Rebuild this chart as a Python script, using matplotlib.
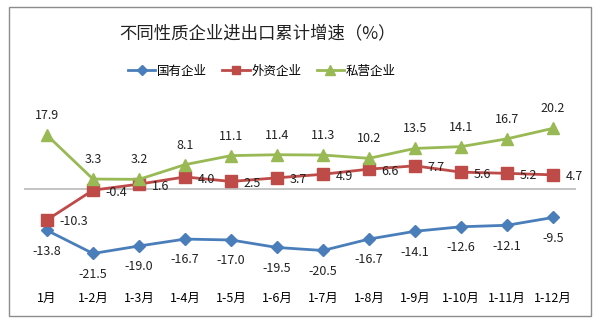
import matplotlib.pyplot as plt
from matplotlib.patches import Rectangle

plt.rcParams['font.family'] = ['Noto Sans CJK SC', 'DejaVu Sans']

months = ['1月', '1-2月', '1-3月', '1-4月', '1-5月', '1-6月',
          '1-7月', '1-8月', '1-9月', '1-10月', '1-11月', '1-12月']
state = [-13.8, -21.5, -19.0, -16.7, -17.0, -19.5, -20.5, -16.7, -14.1, -12.6, -12.1, -9.5]
foreign = [-10.3, -0.4, 1.6, 4.0, 2.5, 3.7, 4.9, 6.6, 7.7, 5.6, 5.2, 4.7]
private = [17.9, 3.3, 3.2, 8.1, 11.1, 11.4, 11.3, 10.2, 13.5, 14.1, 16.7, 20.2]

blue = '#4A7EBB'
red = '#BE4B48'
green = '#98B954'

W, H = 600, 325
fig = plt.figure(figsize=(6, 3.25), dpi=100)
fig.patches.append(Rectangle((9 / W, 1 - 316 / H), 582 / W, 309 / H,
                             transform=fig.transFigure, fill=False,
                             edgecolor='#8C8C8C', linewidth=1))

ax = fig.add_axes([24 / W, 55 / H, 552 / W, 175 / H])
x = list(range(len(months)))

ax.axhline(0, color='#BFBFBF', linewidth=1.3, zorder=1)
l1, = ax.plot(x, state, color=blue, lw=2, marker='D', ms=6.5, label='国有企业', zorder=3)
l2, = ax.plot(x, foreign, color=red, lw=2, marker='s', ms=8, label='外资企业', zorder=3)
l3, = ax.plot(x, private, color=green, lw=2, marker='^', ms=8.5, label='私营企业', zorder=3)

for i in x:
    ax.annotate('%.1f' % state[i], (i, state[i]), xytext=(0, -15), textcoords='offset points',
                ha='center', va='center', fontsize=9, color='#222222')
    ax.annotate('%.1f' % foreign[i], (i, foreign[i]), xytext=(9, -1.5), textcoords='offset points',
                ha='left', va='center', fontsize=9, color='#222222')
    ax.annotate('%.1f' % private[i], (i, private[i]), xytext=(0, 14), textcoords='offset points',
                ha='center', va='center', fontsize=9, color='#222222')

ax.set_xlim(-0.5, 11.5)
ax.set_ylim(-27, 31.3)
ax.set_xticks(x)
ax.set_xticklabels(months, fontsize=9)
ax.tick_params(axis='x', length=0, pad=16)
ax.set_yticks([])
for s in ax.spines.values():
    s.set_visible(False)

fig.text(258 / W, 1 - 33 / H, '不同性质企业进出口累计增速（%）', ha='center', va='center',
         fontsize=12.5, color='#222222')
leg = fig.legend(handles=[l1, l2, l3], loc='center', bbox_to_anchor=(262 / W, 1 - 71 / H),
                 ncol=3, frameon=False, fontsize=9, handlelength=2.2, columnspacing=1.2,
                 handletextpad=0.15, markerscale=0.8)

fig.savefig('out.png', dpi=100)
